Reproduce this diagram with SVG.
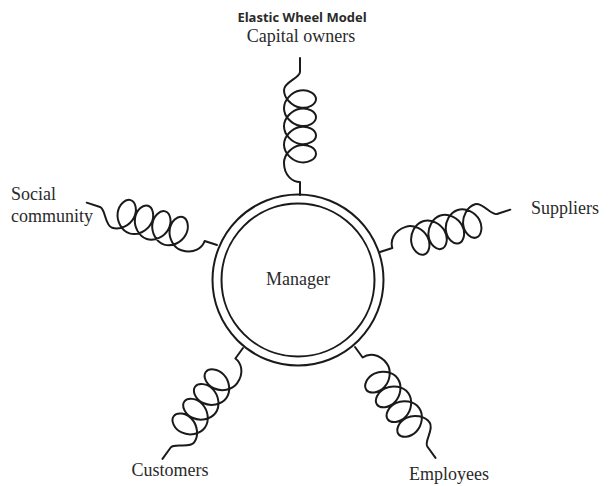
<svg xmlns="http://www.w3.org/2000/svg" width="609" height="486" viewBox="0 0 609 486">
<style>
.ln{fill:none;stroke:#1a1a1a;stroke-width:2;stroke-linejoin:round;stroke-linecap:round}
.lbl{font-family:"Liberation Serif","Times New Roman",serif;font-size:18px;fill:#2a2a2a}
.ttl{font-family:"Open Sans","Liberation Sans",sans-serif;font-size:13px;font-weight:bold;fill:#2a2a2a}
</style>
<defs>
<path id="spring" class="ln" d="M0,0 L13,0 C13,-7 19,-16 32.2,-16
c8.325,0 16.037,7.622 17.555,16 c1.518,8.378 -3.157,16 -8.445,16 c-5.288,0 -9.962,-7.622 -8.444,-16 c1.518,-8.378 9.229,-16 17.554,-16
c8.325,0 16.037,7.622 17.555,16 c1.518,8.378 -3.157,16 -8.445,16 c-5.288,0 -9.962,-7.622 -8.444,-16 c1.518,-8.378 9.229,-16 17.554,-16
c8.325,0 16.037,7.622 17.555,16 c1.518,8.378 -3.157,16 -8.445,16 c-5.288,0 -9.962,-7.622 -8.444,-16 c1.518,-8.378 9.229,-16 17.554,-16
c8.325,0 16.037,7.622 17.555,16 c1.518,8.378 -3.157,16 -8.445,16 c-5.288,0 -9.962,-7.622 -8.444,-16 c1.518,-8.378 9.229,-16 17.554,-16
C113,-16 117,0 123,0 L137,0"/>
</defs>
<rect width="609" height="486" fill="#ffffff"/>
<text class="ttl" x="302" y="22" text-anchor="middle">Elastic Wheel Model</text>
<g id="connectors">
<use href="#spring" transform="translate(300,195) rotate(-90)"/>
<use href="#spring" transform="translate(380,252) rotate(-18)"/>
<use href="#spring" transform="translate(217,245) rotate(198)"/>
<use href="#spring" transform="translate(243,348) rotate(126)"/>
<use href="#spring" transform="translate(355,347) rotate(54)"/>
</g>
<g id="manager">
<circle class="ln" cx="298" cy="280" r="85.5"/>
<circle class="ln" cx="298" cy="280" r="76.5"/>
<text class="lbl" x="298" y="285" text-anchor="middle">Manager</text>
</g>
<g id="capital-owners"><text class="lbl" x="301" y="42" text-anchor="middle">Capital owners</text></g>
<g id="social-community"><text class="lbl" x="11" y="200">Social</text><text class="lbl" x="11" y="222">community</text></g>
<g id="suppliers"><text class="lbl" x="531" y="214">Suppliers</text></g>
<g id="customers"><text class="lbl" x="170" y="476" text-anchor="middle">Customers</text></g>
<g id="employees"><text class="lbl" x="449" y="480" text-anchor="middle">Employees</text></g>
</svg>
